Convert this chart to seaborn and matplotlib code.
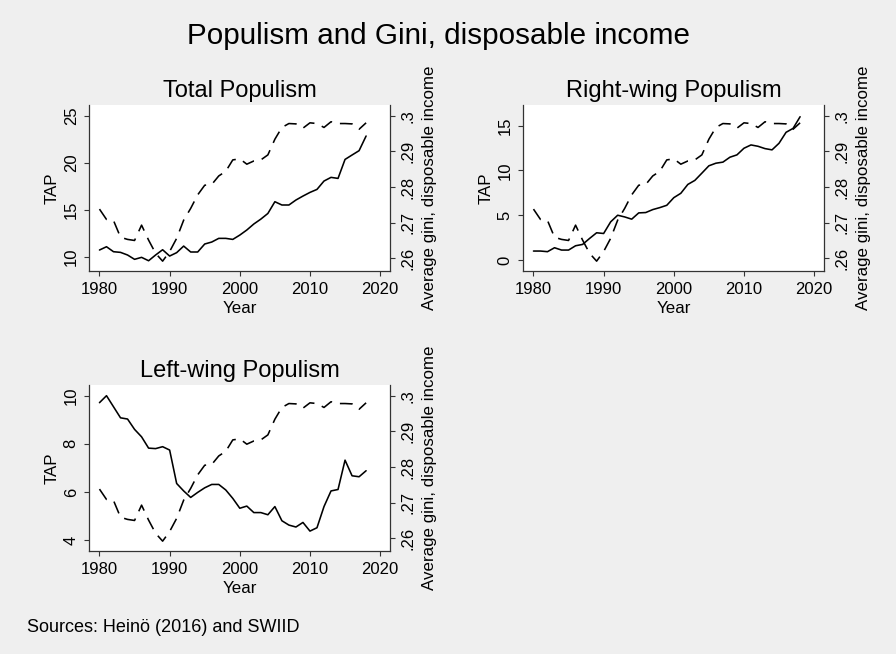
import matplotlib
matplotlib.use("Agg")
import matplotlib.pyplot as plt
import seaborn as sns
import pandas as pd

# ---------------- data ----------------
years = [1980, 1981, 1982, 1983, 1984, 1985, 1986, 1987, 1988, 1989,
         1990, 1991, 1992, 1993, 1994, 1995, 1996, 1997, 1998, 1999,
         2000, 2001, 2002, 2003, 2004, 2005, 2006, 2007, 2008, 2009,
         2010, 2011, 2012, 2013, 2014, 2015, 2016, 2017, 2018]

gini = [.2738, .2709, .2706, .2659, .2653, .2650, .2693, .2651, .2614, .2592,
        .2619, .2656, .2707, .2740, .2778, .2805, .2807, .2831, .2844, .2876,
        .2879, .2864, .2873, .2876, .2890, .2934, .2967, .2978, .2977, .2965,
        .2980, .2978, .2967, .2983, .2978, .2978, .2977, .2962, .2980]

tap_total = [10.71, 11.06, 10.53, 10.46, 10.18, 9.72, 9.93, 9.57, 10.18, 10.74,
             10.07, 10.43, 11.13, 10.50, 10.50, 11.35, 11.56, 11.95, 11.95, 11.84,
             12.30, 12.84, 13.48, 14.00, 14.60, 15.85, 15.50, 15.50, 16.03, 16.45,
             16.84, 17.16, 18.05, 18.44, 18.33, 20.35, 20.82, 21.28, 22.84]

tap_right = [1.00, 1.00, 0.93, 1.37, 1.11, 1.11, 1.59, 1.74, 2.41, 3.04,
             2.96, 4.26, 5.00, 4.81, 4.56, 5.26, 5.30, 5.63, 5.85, 6.11,
             6.96, 7.45, 8.44, 8.89, 9.70, 10.52, 10.81, 10.93, 11.48, 11.74,
             12.48, 12.85, 12.70, 12.44, 12.30, 13.04, 14.26, 14.70, 16.00]

tap_left = [9.71, 10.00, 9.54, 9.08, 9.03, 8.60, 8.29, 7.82, 7.80, 7.88,
            7.74, 6.35, 6.04, 5.77, 5.98, 6.17, 6.31, 6.31, 6.08, 5.73,
            5.32, 5.41, 5.14, 5.14, 5.05, 5.39, 4.80, 4.62, 4.54, 4.73,
            4.37, 4.51, 5.39, 6.04, 6.10, 7.32, 6.67, 6.63, 6.88]

panel_titles = ["Total Populism", "Right-wing Populism", "Left-wing Populism"]
left_ticks = [[10, 15, 20, 25], [0, 5, 10, 15], [4, 6, 8, 10]]
right_ticks = [.26, .27, .28, .29, .3]
right_tick_labels = [".26", ".27", ".28", ".29", ".3"]
x_ticks = [1980, 1990, 2000, 2010, 2020]

main_title = "Populism and Gini, disposable income"
note = "Sources: Heinö (2016) and SWIID"
ylabel_left = "TAP"
ylabel_right = "Average gini, disposable income"
xlabel = "Year"

# ---------------- style ----------------
sns.set_theme(style="ticks")
plt.rcParams["font.family"] = ["Liberation Sans", "DejaVu Sans"]
plt.rcParams["text.color"] = "black"
plt.rcParams["axes.labelcolor"] = "black"
plt.rcParams["xtick.color"] = "black"
plt.rcParams["ytick.color"] = "black"

W, H = 896, 654
BG = "#efefef"
fig = plt.figure(figsize=(W / 100, H / 100), dpi=100, facecolor=BG)

# axes boxes in pixel coords: (left, top, right, bottom)
boxes = [(89.3, 105.0, 390.3, 270.7),
         (523.3, 105.0, 824.3, 270.7),
         (89.3, 385.0, 390.3, 550.7)]
ylims_left = [(8.51, 26.14), (-1.195, 17.31), (3.555, 10.445)]
ylim_right = (.25652, .3030)
xlim = (1978.55, 2021.45)

series = [tap_total, tap_right, tap_left]

for i, (box, tap) in enumerate(zip(boxes, series)):
    l, t, r, b = box
    ax = fig.add_axes([l / W, 1 - b / H, (r - l) / W, (b - t) / H])
    ax.set_facecolor("white")
    df = pd.DataFrame({"Year": years, "TAP": tap, "gini": gini})
    sns.lineplot(data=df, x="Year", y="TAP", ax=ax, color="black",
                 linewidth=1.15, zorder=3)
    ax2 = ax.twinx()
    sns.lineplot(data=df, x="Year", y="gini", ax=ax2, color="black",
                 linewidth=1.15, zorder=3)
    ax2.lines[-1].set_dashes((8.0, 5.0))

    ax.set_xlim(*xlim)
    ax.set_ylim(*ylims_left[i])
    ax2.set_ylim(*ylim_right)

    ax.set_xticks(x_ticks)
    ax.set_xticklabels([str(v) for v in x_ticks], fontsize=12)
    ax.set_yticks(left_ticks[i])
    ax.set_yticklabels([str(v) for v in left_ticks[i]], fontsize=12,
                       rotation=90, va="center")
    ax2.set_yticks(right_ticks)
    ax2.set_yticklabels(right_tick_labels, fontsize=12, rotation=90, va="center")

    for a in (ax, ax2):
        a.tick_params(direction="out", length=3.6, width=0.8, color="#333333",
                      labelcolor="black")
        a.spines["top"].set_visible(False)
        for s in ("left", "right", "bottom"):
            a.spines[s].set_color("#333333")
            a.spines[s].set_linewidth(0.9)
    ax.tick_params(axis="x", pad=4.5)
    ax.tick_params(axis="y", pad=4)
    ax2.tick_params(axis="y", pad=4)
    ax2.spines["left"].set_visible(False)
    ax2.spines["bottom"].set_visible(False)
    ax.spines["right"].set_visible(False)

    ax.set_xlabel(xlabel, fontsize=12.2, labelpad=3.0, color="black")
    ax.set_ylabel(ylabel_left, fontsize=12.2, labelpad=3.0, color="black")
    ax2.set_ylabel(ylabel_right, fontsize=12.2, labelpad=4.5, color="black")
    ax.set_title(panel_titles[i], fontsize=17, pad=6, color="black")
    ax.grid(False)
    ax2.grid(False)

fig.text(438.7 / W, 1 - 36 / H, main_title, fontsize=21.3,
         ha="center", va="center", color="black")
fig.text(26.7 / W, 1 - 628 / H, note, fontsize=13, ha="left", va="center",
         color="black")

fig.savefig("out.png", dpi=100, facecolor=BG)
